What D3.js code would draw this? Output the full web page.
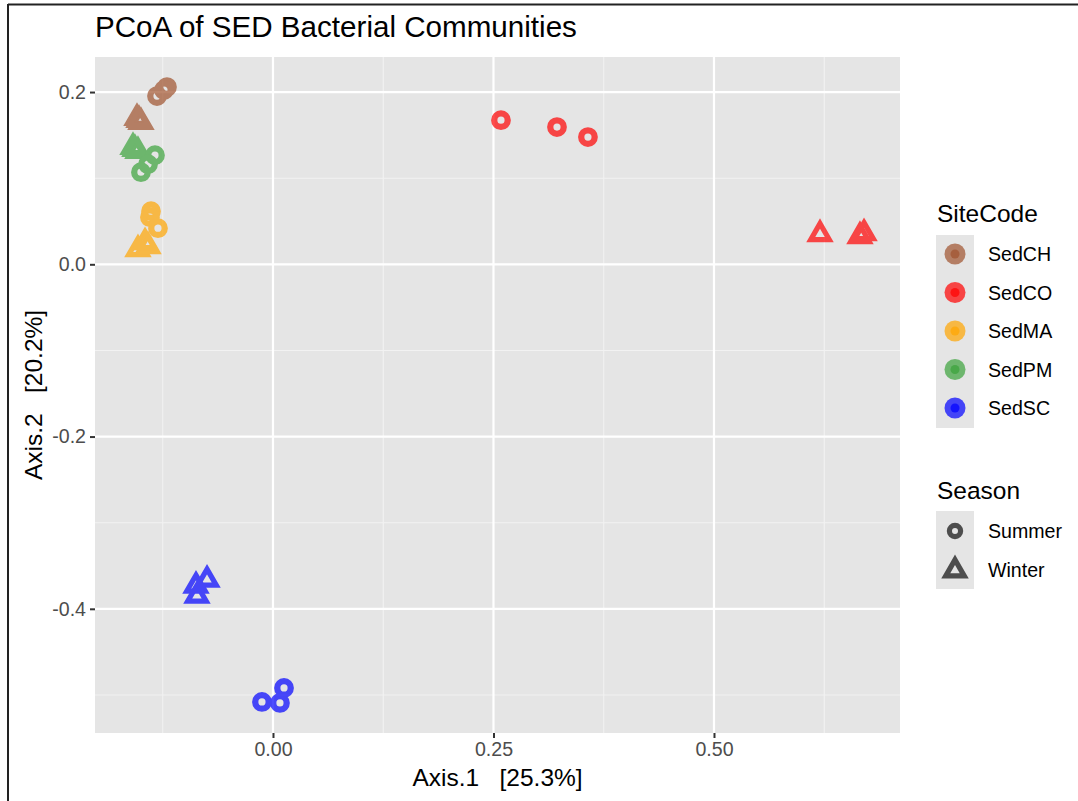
<!DOCTYPE html>
<html>
<head>
<meta charset="utf-8">
<script src="https://cdn.jsdelivr.net/npm/d3@7"></script>
<style>
  body { margin: 0; background: #fff; }
  svg { font-family: "Liberation Sans", Arial, sans-serif; }
  text { white-space: pre; }
</style>
</head>
<body>
<svg id="chart" width="1078" height="801"></svg>
<script>
// data
const sites = ["SedCH", "SedCO", "SedMA", "SedPM", "SedSC"];
const siteColors = ["#a0522d", "#ff0000", "#ffa500", "#3aa33a", "#0000ff"];
const seasons = ["Summer", "Winter"];

const sampleSite   = ["SedCH","SedCH","SedCH","SedCH","SedCH","SedCH",
                      "SedPM","SedPM","SedPM","SedPM","SedPM","SedPM",
                      "SedMA","SedMA","SedMA","SedMA","SedMA","SedMA",
                      "SedCO","SedCO","SedCO","SedCO","SedCO","SedCO",
                      "SedSC","SedSC","SedSC","SedSC","SedSC","SedSC"];
const sampleSeason = ["Summer","Summer","Summer","Winter","Winter","Winter",
                      "Winter","Winter","Winter","Summer","Summer","Summer",
                      "Summer","Summer","Summer","Winter","Winter","Winter",
                      "Summer","Summer","Summer","Winter","Winter","Winter",
                      "Winter","Winter","Winter","Summer","Summer","Summer"];
const axis1 = [-0.1315, -0.1202, -0.1236, -0.1542, -0.1497, -0.1519,
               -0.1587, -0.1531, -0.1565, -0.1338, -0.1417, -0.1497,
               -0.1383, -0.1395, -0.1304, -0.1531, -0.1417, -0.1451,
                0.2585,  0.3220,  0.3571,  0.6202,  0.6655,  0.6701,
               -0.0873, -0.0748, -0.0862, -0.0125,  0.0079,  0.0125];
const axis2 = [ 0.1953,  0.2058,  0.2023,  0.1698,  0.1651,  0.1674,
                0.1360,  0.1314,  0.1337,  0.1267,  0.1163,  0.1070,
                0.0616,  0.0547,  0.0419,  0.0174,  0.0209,  0.0256,
                0.1674,  0.1593,  0.1477,  0.0349,  0.0326,  0.0360,
               -0.3733, -0.3663, -0.3849, -0.5081, -0.5093, -0.4919];

const xTicks = [0, 0.25, 0.5];
const xMinor = [-0.125, 0.125, 0.375, 0.625];
const yTicks = [0.2, 0, -0.2, -0.4];
const yMinor = [0.1, -0.1, -0.3, -0.5];

const samples = axis1.map((v, i) => ({ x: v, y: axis2[i], site: sampleSite[i], season: sampleSeason[i] }));

const svg = d3.select("#chart");
const panel = { left: 95, top: 57, right: 900, bottom: 733 };

const x = d3.scaleLinear().domain([-0.2018, 0.7109]).range([panel.left, panel.right]);
const y = d3.scaleLinear().domain([-0.5442, 0.2407]).range([panel.bottom, panel.top]);
const color = d3.scaleOrdinal().domain(sites).range(siteColors);

// outer frame (only top and left visible in the picture)
svg.append("line").attr("x1", 8).attr("x2", 1078).attr("y1", 4.5).attr("y2", 4.5)
   .attr("stroke", "#222").attr("stroke-width", 2);
svg.append("line").attr("x1", 8).attr("x2", 8).attr("y1", 4).attr("y2", 801)
   .attr("stroke", "#222").attr("stroke-width", 2);

svg.append("text").attr("x", 95).attr("y", 37)
   .attr("font-size", 29.6).attr("fill", "#000")
   .text("PCoA of SED Bacterial Communities");

// panel + grid
svg.append("rect").attr("x", panel.left).attr("y", panel.top)
   .attr("width", panel.right - panel.left).attr("height", panel.bottom - panel.top)
   .attr("fill", "#e5e5e5");

const grid = svg.append("g");
grid.selectAll(".xm").data(xMinor).join("line")
   .attr("x1", d => x(d)).attr("x2", d => x(d)).attr("y1", panel.top).attr("y2", panel.bottom)
   .attr("stroke", "#f2f2f2").attr("stroke-width", 1.1);
grid.selectAll(".ym").data(yMinor).join("line")
   .attr("y1", d => y(d)).attr("y2", d => y(d)).attr("x1", panel.left).attr("x2", panel.right)
   .attr("stroke", "#f2f2f2").attr("stroke-width", 1.1);
grid.selectAll(".xM").data(xTicks).join("line")
   .attr("x1", d => x(d)).attr("x2", d => x(d)).attr("y1", panel.top).attr("y2", panel.bottom)
   .attr("stroke", "#fff").attr("stroke-width", 2.2);
grid.selectAll(".yM").data(yTicks).join("line")
   .attr("y1", d => y(d)).attr("y2", d => y(d)).attr("x1", panel.left).attr("x2", panel.right)
   .attr("stroke", "#fff").attr("stroke-width", 2.2);

// axes
const hyphen = f => d => f(d).replace("\u2212", "-");
const xAxis = svg.append("g").attr("transform", `translate(0,${panel.bottom})`)
   .call(d3.axisBottom(x).tickValues(xTicks).tickFormat(hyphen(d3.format(".2f"))).tickSize(5).tickPadding(4));
const yAxis = svg.append("g").attr("transform", `translate(${panel.left},0)`)
   .call(d3.axisLeft(y).tickValues(yTicks).tickFormat(hyphen(d3.format(".1f"))).tickSize(5).tickPadding(4));
[xAxis, yAxis].forEach(a => {
  a.attr("font-size", null).attr("font-family", null);
  a.select(".domain").remove();
  a.selectAll(".tick line").attr("stroke", "#333").attr("stroke-width", 2);
  a.selectAll(".tick text").style("fill", "#4d4d4d").style("font-size", "19.6px");
});

svg.append("text").attr("x", (panel.left + panel.right) / 2).attr("y", 786)
   .attr("text-anchor", "middle").attr("font-size", 24.5).text("Axis.1   [25.3%]");
svg.append("text").attr("transform", `translate(42,${(panel.top + panel.bottom) / 2}) rotate(-90)`)
   .attr("text-anchor", "middle").attr("font-size", 24.5).text("Axis.2   [20.2%]");

// shapes
const triPath = s => {
  const h = s * Math.sqrt(3) / 2;
  return `M0,${-h * 2 / 3}L${s / 2},${h / 3}L${-s / 2},${h / 3}Z`;
};

const pts = svg.append("g").attr("opacity", 0.7);
samples.forEach(d => {
  const c = color(d.site);
  if (d.season === "Summer") {
    pts.append("circle").attr("cx", x(d.x)).attr("cy", y(d.y)).attr("r", 6.75)
       .attr("fill", "none").attr("stroke", c).attr("stroke-width", 6.3);
  } else {
    pts.append("path").attr("d", triPath(18.5))
       .attr("transform", `translate(${x(d.x)},${y(d.y)})`)
       .attr("fill", "none").attr("stroke", c).attr("stroke-width", 5.2)
       .attr("stroke-linejoin", "miter");
  }
});

// legends
const lg = svg.append("g").attr("transform", "translate(936,0)");
lg.append("text").attr("x", 1).attr("y", 222).attr("font-size", 24.5).text("SiteCode");
lg.append("rect").attr("x", 0).attr("y", 235).attr("width", 38).attr("height", 193).attr("fill", "#e5e5e5");
sites.forEach((s, i) => {
  const cy = 254 + i * 38.5;
  lg.append("circle").attr("cx", 19).attr("cy", cy).attr("r", 10.5)
    .attr("fill", color(s)).attr("opacity", 0.7);
  lg.append("circle").attr("cx", 19).attr("cy", cy).attr("r", 4.5)
    .attr("fill", color(s)).attr("opacity", 0.7);
  lg.append("text").attr("x", 52).attr("y", cy + 7).attr("font-size", 19.6).text(s);
});

lg.append("text").attr("x", 1).attr("y", 499).attr("font-size", 24.5).text("Season");
lg.append("rect").attr("x", 0).attr("y", 511).attr("width", 38).attr("height", 78).attr("fill", "#e5e5e5");
seasons.forEach((s, i) => {
  const cy = 531 + i * 38.5;
  if (s === "Summer") {
    lg.append("circle").attr("cx", 19).attr("cy", cy).attr("r", 5.6)
      .attr("fill", "none").attr("stroke", "#333").attr("stroke-width", 5.2).attr("opacity", 0.85);
  } else {
    lg.append("path").attr("d", triPath(18.5)).attr("transform", `translate(19,${cy + 1})`)
      .attr("fill", "none").attr("stroke", "#333").attr("stroke-width", 5.2).attr("opacity", 0.85);
  }
  lg.append("text").attr("x", 52).attr("y", cy + 7).attr("font-size", 19.6).text(s);
});
</script>
</body>
</html>
